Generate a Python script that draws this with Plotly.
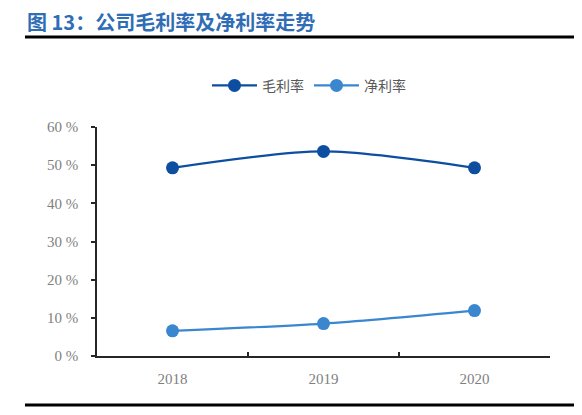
import plotly.graph_objects as go

# 年份与利率数据
years = ["2018", "2019", "2020"]
gross_margin = [0.493, 0.536, 0.493]   # 毛利率
net_margin = [0.066, 0.085, 0.119]     # 净利率

y_ticks = [0, 0.1, 0.2, 0.3, 0.4, 0.5, 0.6]
y_labels = ["0 %", "10 %", "20 %", "30 %", "40 %", "50 %", "60 %"]

title_text = "图 13：公司毛利率及净利率走势"

fig = go.Figure()

fig.add_trace(go.Scatter(
    x=years, y=gross_margin, name="毛利率",
    mode="lines+markers",
    line=dict(color="#0D4EA0", width=2.2, shape="spline", smoothing=0.8),
    marker=dict(size=13, color="#0D4EA0"),
))
fig.add_trace(go.Scatter(
    x=years, y=net_margin, name="净利率",
    mode="lines+markers",
    line=dict(color="#3A87CF", width=2.2, shape="spline", smoothing=0.8),
    marker=dict(size=13, color="#3A87CF"),
))

# page has an 8px body offset, so the figure is a bit smaller than the window
fig.update_layout(
    width=574, height=407,
    margin=dict(l=89, r=32, t=119, b=59),
    paper_bgcolor="white", plot_bgcolor="white",
    font=dict(family="Liberation Serif, Noto Sans CJK SC", color="#7F7F7F", size=14),
    showlegend=True,
    legend=dict(
        orientation="h", x=0.468, xanchor="center", y=1.18, yanchor="middle",
        font=dict(family="Noto Sans CJK SC", size=14, color="#595959"),
        itemwidth=45,
    ),
    annotations=[dict(
        text="<b>" + title_text + "</b>",
        xref="paper", yref="paper", x=-0.159, y=1.46,
        xanchor="left", yanchor="middle", showarrow=False,
        font=dict(family="Noto Sans CJK SC", size=20, color="#2F6DB5"),
    )],
    shapes=[
        dict(type="line", xref="paper", yref="paper", x0=-0.159, x1=1.08,
             y0=1.393, y1=1.393, line=dict(color="black", width=3)),
        dict(type="line", xref="paper", yref="paper", x0=-0.159, x1=1.08,
             y0=-0.214, y1=-0.214, line=dict(color="black", width=3)),
    ],
)

fig.update_xaxes(
    type="category", tickson="boundaries", range=[-0.5, 2.5],
    ticks="inside", ticklen=4, tickcolor="#262626", tickwidth=1.5,
    showline=True, linecolor="#262626", linewidth=1.5,
    showgrid=False, zeroline=False, ticklabelstandoff=8,
    tickfont=dict(family="Liberation Serif", size=15, color="#7F7F7F"),
)
fig.update_yaxes(
    range=[0, 0.6], tickvals=y_ticks, ticktext=y_labels,
    ticks="outside", ticklen=4, tickcolor="#262626", tickwidth=1.5,
    showline=True, linecolor="#262626", linewidth=1.5,
    showgrid=False, zeroline=False, ticklabelstandoff=10,
    tickfont=dict(family="Liberation Serif", size=15, color="#7F7F7F"),
)

fig.write_html("out.html")
